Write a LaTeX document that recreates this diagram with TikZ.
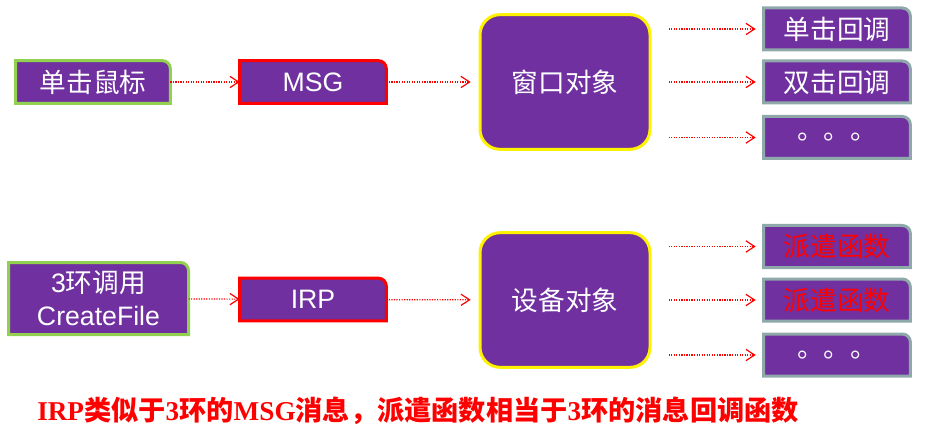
\documentclass[tikz,border=0pt]{standalone}
\usepackage{fontspec}
\setmainfont{Liberation Sans}
\newfontfamily\cjk{Noto Sans CJK SC}
\newfontfamily\serlat{Liberation Serif}
\usetikzlibrary{arrows.meta, backgrounds}
\definecolor{boxpurple}{HTML}{7030A0}
\definecolor{srcgreen}{HTML}{92D050}
\definecolor{cbgray}{HTML}{8FA9AA}
\newcommand\latb[1]{{\serlat\bfseries #1}}
% purple box with only the top right corner rounded
\newcommand\tabframe[2]{%
  \filldraw[fill=boxpurple, draw=#2, line width=2.25pt]
    (#1.south west) -- (#1.north west) -- ([xshift=-6pt]#1.north east)
    arc[start angle=90, end angle=0, radius=6pt] -- (#1.south east) -- cycle;}

\begin{document}
\begin{tikzpicture}[
        x=0.75pt, y=-0.75pt,
        lbl/.style={inner sep=0pt, outer sep=0pt, text=white, align=center,
                    font=\fontsize{20}{25}\selectfont},
        tabbox/.style={lbl, minimum width=#1, minimum height=32pt},
        objbox/.style={lbl, draw=yellow, line width=2.25pt, fill=boxpurple,
                       rounded corners=15pt, minimum width=127.5pt, minimum height=101pt},
        flow/.style={red, densely dotted, line width=0.9pt,
                     -{Straight Barb[length=6.5pt, width=8.5pt, line width=0.9pt]}},
    ]
        \useasboundingbox (0,0) rectangle (934,445);

        %--- Fila MSG ---
        \node[tabbox=116pt]  (click) at (93,82)  {\cjk 单击鼠标};
        \node[tabbox=110pt]  (msg)   at (313,82) {MSG};
        \node[objbox]        (wnd)   at (565,82) {\cjk 窗口对象};
        \node[tabbox=110pt, minimum height=31.5pt] (cb1) at (837,29)    {\cjk 单击回调};
        \node[tabbox=110pt, minimum height=31.5pt] (cb2) at (837,82)    {\cjk 双击回调};
        \node[tabbox=110pt, minimum height=31.5pt] (cb3) at (837,137.5) {\cjk 。。。};

        %--- Fila IRP ---
        \node[tabbox=135pt, minimum height=54pt] (cf) at (98.5,298.5) {3{\cjk 环调用}\\CreateFile};
        \node[tabbox=110pt]  (irp)   at (313,299.5) {IRP};
        \node[objbox]        (dev)   at (565,300)   {\cjk 设备对象};
        \node[tabbox=110pt, minimum height=31.5pt, text=red] (dp1) at (837,246.5) {\cjk 派遣函数};
        \node[tabbox=110pt, minimum height=31.5pt, text=red] (dp2) at (837,300)   {\cjk 派遣函数};
        \node[tabbox=110pt, minimum height=31.5pt] (dp3) at (837,355) {\cjk 。。。};

        \begin{scope}[on background layer]
            \foreach \n/\c in {click/srcgreen, msg/red, cb1/cbgray, cb2/cbgray, cb3/cbgray,
                               cf/srcgreen, irp/red, dp1/cbgray, dp2/cbgray, dp3/cbgray}
                \tabframe{\n}{\c};
        \end{scope}

        \draw[flow] (click) -- (msg);
        \draw[flow, shorten >=7pt] (msg) -- (wnd);
        \draw[flow] (cf) -- (irp);
        \draw[flow, shorten >=7pt] (irp) -- (dev);
        \foreach \n in {cb1, cb2, cb3}
            \draw[flow, shorten <=14pt, shorten >=6pt] (wnd.east |- \n) -- (\n.west);
        \foreach \n in {dp1, dp2, dp3}
            \draw[flow, shorten <=14pt, shorten >=6pt] (dev.east |- \n) -- (\n.west);

        %--- nota ---
        \node[anchor=west, inner sep=0pt, text=red, font=\fontsize{20.4}{24}\selectfont\cjk\bfseries]
            (note) at (37,411)
            {\latb{IRP}类似于\latb{3}环的\latb{MSG}消息，派遣函数相当于\latb{3}环的消息回调函数};
\end{tikzpicture}
\end{document}
